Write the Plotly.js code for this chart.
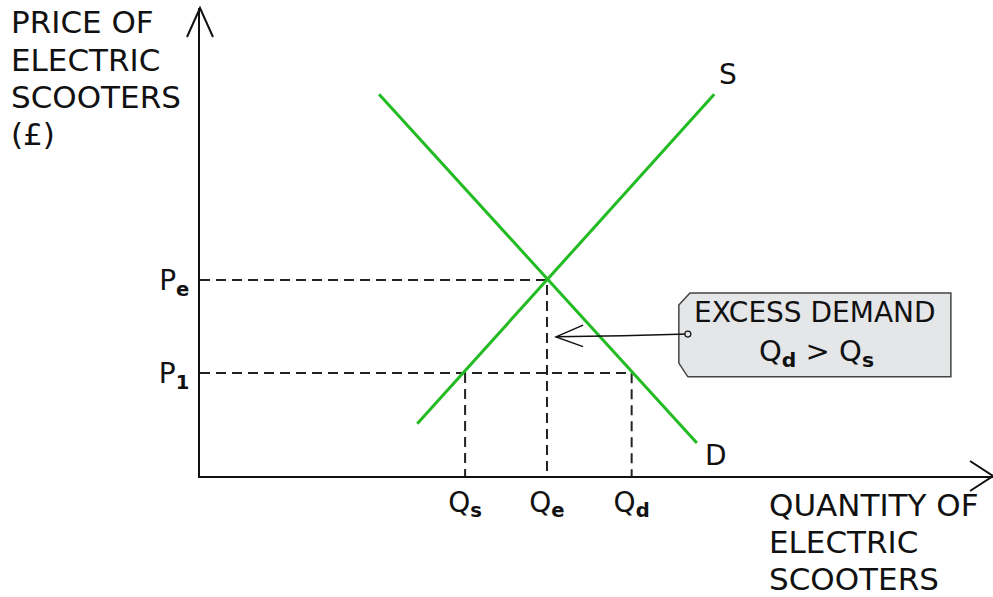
<!DOCTYPE html>
<html>
<head>
<meta charset="utf-8">
<script src="https://cdn.plot.ly/plotly-3.0.1.min.js"></script>
<style>
  html, body { margin: 0; padding: 0; background: #fff; }
  #chart { width: 993px; height: 597px; }
</style>
</head>
<body>
<div id="chart"></div>
<script>
// supply and demand curves (quantity, price)
const supplyQ = [3.13, 7.41];
const supplyP = [1.33, 9.74];
const demandQ = [2.58, 7.16];
const demandP = [9.74, 0.84];

// price levels and quantity levels
const priceLevels = [5.0, 2.63];
const priceLabels = ['P<sub><b>e</b></sub>', 'P<sub><b>1</b></sub>'];
const qtyLevels = [3.82, 5.0, 6.22];
const qtyLabels = ['Q<sub><b>s</b></sub>', 'Q<sub><b>e</b></sub>', 'Q<sub><b>d</b></sub>'];

const yTitleLines = ['PRICE OF', 'ELECTRIC', 'SCOOTERS', '(£)'];
const xTitleLines = ['QUANTITY OF', 'ELECTRIC', 'SCOOTERS'];

const xMax = 11.427;
const yMax = 11.94;
const plotW = 793, plotH = 468;

const green = '#22bb22';
const ink = '#111111';
const font = 'DejaVu Sans, sans-serif';

const Pe = priceLevels[0], P1 = priceLevels[1];
const Qs = qtyLevels[0], Qe = qtyLevels[1], Qd = qtyLevels[2];

// pixel offsets from the plot corner -> paper coords
function px(dx) { return dx / plotW; }
function py(dy) { return dy / plotH; }

const dash = { color: '#222', width: 2, dash: '10px,6px' };

const traces = [
  { x: [0, Qe, Qe], y: [Pe, Pe, 0], mode: 'lines', line: dash, hoverinfo: 'skip' },
  { x: [0, Qd, Qd], y: [P1, P1, 0], mode: 'lines', line: dash, hoverinfo: 'skip' },
  { x: [Qs, Qs], y: [P1, 0], mode: 'lines', line: dash, hoverinfo: 'skip' },
  { x: supplyQ, y: supplyP, mode: 'lines', line: { color: green, width: 3 }, name: 'S' },
  { x: demandQ, y: demandP, mode: 'lines', line: { color: green, width: 3 }, name: 'D' }
];

// callout box
const box = { q0: 6.90, q1: 10.82, p0: 2.53, p1: 4.67 };
const boxPath = 'M ' + box.q0 + ',4.36 L 7.06,' + box.p1 + ' L ' + box.q1 + ',' + box.p1 +
  ' L ' + box.q1 + ',' + box.p0 + ' L 7.03,' + box.p0 + ' L ' + box.q0 + ',2.88 Z';
const arrowFrom = { q: 7.03, p: 3.62 };
const arrowTo = { q: 5.13, p: 3.55 };

const shapes = [
  { type: 'path', xref: 'x', yref: 'y', path: boxPath,
    fillcolor: '#e5e6e8', line: { color: '#444', width: 1.5 }, layer: 'below' },
  { type: 'path', xref: 'x', yref: 'y',
    path: 'M ' + arrowFrom.q + ',' + arrowFrom.p + ' Q 6.1,3.57 ' + arrowTo.q + ',' + arrowTo.p,
    line: { color: ink, width: 1.5 } },
  { type: 'path', xref: 'x', yref: 'y',
    path: 'M 5.52,3.85 L ' + arrowTo.q + ',' + arrowTo.p + ' L 5.52,3.30',
    line: { color: ink, width: 1.5 } },
  { type: 'circle', xref: 'x', yref: 'y', xsizemode: 'pixel', ysizemode: 'pixel',
    xanchor: arrowFrom.q, yanchor: arrowFrom.p, x0: -3, x1: 3, y0: -3, y1: 3,
    fillcolor: '#e5e6e8', line: { color: ink, width: 1.2 } },
  // axis arrowheads
  { type: 'path', xref: 'paper', yref: 'paper',
    path: 'M ' + px(-13) + ',' + (1 - py(29)) + ' L 0,1 L ' + px(13) + ',' + (1 - py(29)),
    line: { color: ink, width: 2 } },
  { type: 'path', xref: 'paper', yref: 'paper',
    path: 'M ' + (1 - px(23)) + ',' + py(15) + ' L 1,0 L ' + (1 - px(23)) + ',' + py(-15),
    line: { color: ink, width: 2 } }
];

const annotations = [];
yTitleLines.forEach((t, i) => {
  annotations.push({ text: t, xref: 'paper', yref: 'paper', x: px(-191), y: 1 + py(-14 - i * 37.5),
    xanchor: 'left', yanchor: 'middle', showarrow: false, font: { family: font, size: 31, color: ink } });
});
xTitleLines.forEach((t, i) => {
  annotations.push({ text: t, xref: 'paper', yref: 'paper', x: px(567), y: py(-29 - i * 37),
    xanchor: 'left', yanchor: 'middle', showarrow: false, font: { family: font, size: 31, color: ink } });
});
annotations.push(
  { text: 'S', x: supplyQ[1], y: supplyP[1], xref: 'x', yref: 'y', xshift: 14, yshift: 20,
    showarrow: false, font: { family: font, size: 28, color: ink } },
  { text: 'D', x: demandQ[1], y: demandP[1], xref: 'x', yref: 'y', xshift: 19, yshift: -12,
    showarrow: false, font: { family: font, size: 28, color: ink } },
  { text: 'EXCESS DEMAND', x: (box.q0 + box.q1) / 2, y: 4.17, xref: 'x', yref: 'y',
    showarrow: false, font: { family: font, size: 28, color: ink } },
  { text: 'Q<sub><b>d</b></sub> > Q<sub><b>s</b></sub>', x: (box.q0 + box.q1) / 2 + 0.03, y: 3.14, xref: 'x', yref: 'y',
    showarrow: false, font: { family: font, size: 29, color: ink } }
);

const layout = {
  width: 993,
  height: 597,
  margin: { l: 200, r: 0, t: 8, b: 121 },
  paper_bgcolor: '#ffffff',
  plot_bgcolor: '#ffffff',
  showlegend: false,
  xaxis: {
    range: [0, xMax], showgrid: false, zeroline: false,
    showline: true, linecolor: ink, linewidth: 2,
    tickvals: qtyLevels, ticktext: qtyLabels, ticks: '',
    ticklabelstandoff: 0,
    tickfont: { family: font, size: 28, color: ink }
  },
  yaxis: {
    range: [0, yMax], showgrid: false, zeroline: false,
    showline: true, linecolor: ink, linewidth: 2,
    tickvals: priceLevels, ticktext: priceLabels, ticks: '',
    ticklabelstandoff: 3,
    tickfont: { family: font, size: 28, color: ink }
  },
  shapes: shapes,
  annotations: annotations
};

Plotly.newPlot('chart', traces, layout, { displayModeBar: false, staticPlot: true });
</script>
</body>
</html>
